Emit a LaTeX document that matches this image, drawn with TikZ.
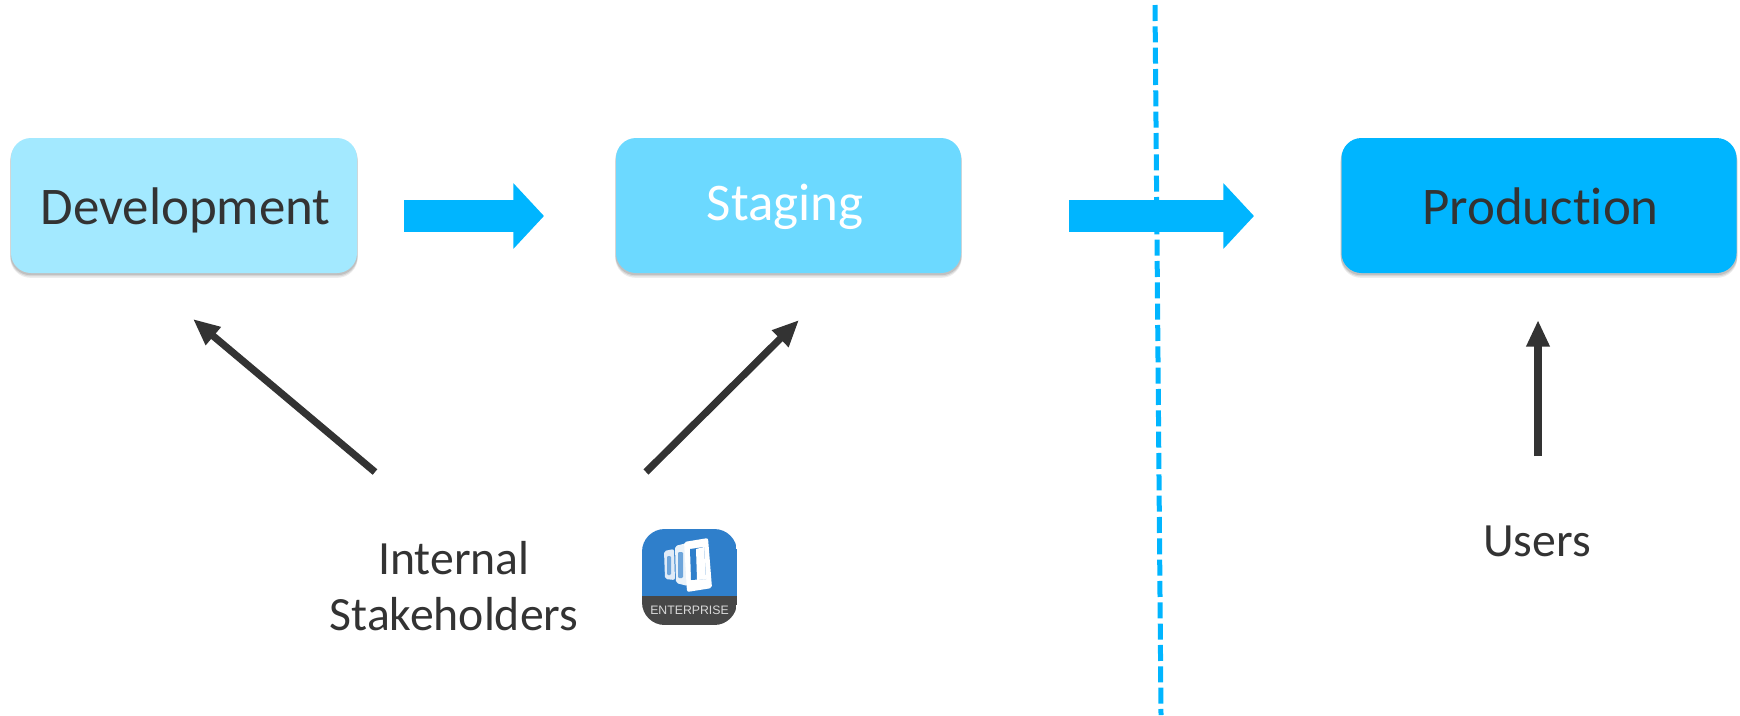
\documentclass[tikz,border=0pt]{standalone}
\usepackage{fontspec}
\setmainfont[Ligatures=NoCommon]{Carlito}
\newfontfamily\iconfont{Liberation Sans}
\usetikzlibrary{arrows.meta,shadows}

\definecolor{devblue}{RGB}{163,233,255}
\definecolor{stageblue}{RGB}{108,217,255}
\definecolor{prodblue}{RGB}{0,181,255}
\definecolor{inkgray}{RGB}{51,51,51}
\definecolor{iconblue}{RGB}{47,127,203}

\tikzset{
  softshadow/.style={shadow xshift=0pt,shadow scale=1.004,fill=black,opacity=#1},
  envbox/.style={rounded corners=15pt,minimum width=#1,minimum height=101.25pt,inner sep=0pt,
    drop shadow={softshadow=0.07,shadow yshift=-3.4pt},
    drop shadow={softshadow=0.09,shadow yshift=-2.4pt},
    drop shadow={softshadow=0.11,shadow yshift=-1.4pt}},
  envlabel/.style={inner sep=0pt,font=\fontsize{39.7pt}{46pt}\selectfont},
  flow/.style={draw=prodblue,line width=23.5pt,-{Triangle[length=23pt,width=48pt]}},
  access/.style={draw=inkgray,line width=5.4pt,-{Triangle[length=20pt,width=16.5pt]}},
  caption/.style={inner sep=0pt,align=center,text=inkgray,font=\fontsize{35.8pt}{41.6pt}\selectfont},
  panel/.style={fill=white,rounded corners=1.5pt},
  pane/.style={fill=iconblue!70!white,rounded corners=0.8pt},
}

\begin{document}
\begin{tikzpicture}[x=0.75pt,y=0.75pt,yscale=-1,xscale=1]
\useasboundingbox (0,0) rectangle (1740,715);

%Straight Lines: boundary
\coordinate (boundtop) at (1155,5);
\coordinate (boundbottom) at (1161,715);
\draw [draw=prodblue,line width=3.75pt,dash pattern=on 12pt off 4pt] (boundtop) -- (boundbottom);

%Shape: Rectangle
\node (development) [envbox=259.5pt,fill=devblue] at (184,205.5) {};
\node (staging) [envbox=258.75pt,fill=stageblue] at (788.5,205.5) {};
\node (production) [envbox=296.25pt,fill=prodblue] at (1539,205.5) {};

% Text Node
\node (devlabel) [envlabel,text=inkgray] at (185.5,210) {Development};
\node (stagelabel) [envlabel,text=white] at (785,207) {Staging};
\node (prodlabel) [envlabel,text=inkgray] at (1540.5,206) {Production};
\node (stakeholders) [caption] at (454,586) {Internal\\Stakeholders};
\node (users) [caption] at (1537,541) {Users};

%Block Arrows
\coordinate (flowastart) at (404,216);
\coordinate (flowaend) at (544,216);
\coordinate (flowbstart) at (1069,216);
\coordinate (flowbend) at (1254,216);
\draw [flow] (flowastart) -- (flowaend);
\draw [flow] (flowbstart) -- (flowbend);

%Straight Lines
\coordinate (devfrom) at (375,472);
\coordinate (devtip) at (193,319);
\coordinate (stagefrom) at (646,472);
\coordinate (stagetip) at (799,320);
\coordinate (prodfrom) at (1538,456);
\coordinate (prodtip) at (1538,320);
\draw [access] (devfrom) -- (devtip);
\draw [access] (stagefrom) -- (stagetip);
\draw [access] (prodfrom) -- (prodtip);

%Shape: icon
\begin{scope}
\clip [rounded corners=17pt] (642,529) rectangle (737,625);
\fill [iconblue] (642,529) rectangle (737,596);
\fill [inkgray!90!white] (642,596) rectangle (737,625);
\end{scope}
\fill [panel,opacity=0.85] (664,551) -- (674,549) -- (675,580) -- (665,579) -- cycle;
\fill [pane] (667,556) rectangle (671,575);
\fill [panel,opacity=0.9] (675,546) -- (687,543) -- (688,586) -- (676,583) -- cycle;
\fill [pane] (678,552) rectangle (683,578);
\fill [panel] (684,542) -- (708,538) -- (712,588) -- (687,592) -- cycle;
\fill [iconblue] (690,549) -- (704,547) -- (706,579) -- (691,580) -- cycle;
\fill [white] (696,549) -- (704,547) -- (706,579) -- (697,580) -- cycle;
\node (iconlabel) [inner sep=0pt,text=white!85!black,font=\iconfont\fontsize{9.2pt}{10pt}\selectfont] at (689.5,610) {ENTERPRISE};
\end{tikzpicture}
\end{document}
